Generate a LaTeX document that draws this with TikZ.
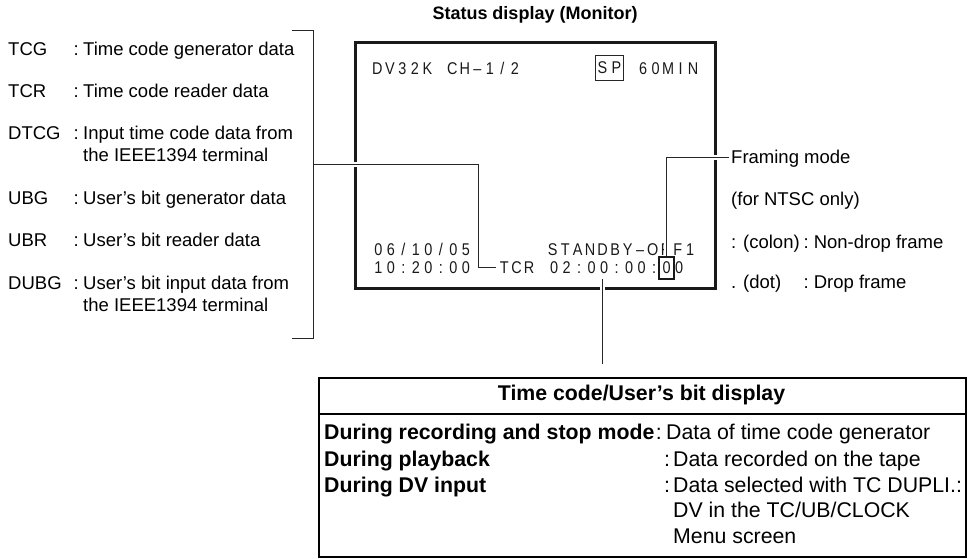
\documentclass[tikz,border=0pt]{standalone}
\usepackage{fontspec}
\setmainfont{Liberation Sans}
\newfontfamily\monfont[FakeStretch=0.85]{Liberation Sans}
\usetikzlibrary{calc}
\newlength\monopitch
\setlength\monopitch{12.5pt}
\makeatletter
\newcommand\monostr[1]{\@tfor\mc:=#1\do{\makebox[\monopitch]{\mc}}}
\makeatother
\begin{document}
\begin{tikzpicture}[x=1pt,y=-1pt,
  txt/.style={inner sep=0pt, font=\fontsize{18.5}{22}\selectfont, anchor=base west},
  ttl/.style={inner sep=0pt, font=\bfseries\fontsize{18}{22}\selectfont, anchor=base},
  mon/.style={inner sep=0pt, font=\monfont\fontsize{17}{20}\selectfont, anchor=base west, text=black!90},
  tb/.style={inner sep=0pt, font=\fontsize{21.3}{25}\selectfont, anchor=base west},
  tbb/.style={tb, font=\bfseries\fontsize{21.3}{25}\selectfont},
  conn/.style={draw=black!85, line width=1pt},
  halo/.style={preaction={draw=white, line width=5pt}},
  spbox/.style={draw=black!85, line width=0.9pt, inner sep=0pt, minimum width=27pt, minimum height=25pt, font=\monfont\fontsize{17}{20}\selectfont, text=black!90},
  framebox/.style={draw=black!90, line width=2pt, inner sep=0pt, minimum width=15pt, minimum height=22pt},
  ]
\useasboundingbox (0,0) rectangle (970,558);

% title
\node[ttl] (title) at (535,19.5) {Status display (Monitor)};

% left legend
\node[txt] (tcg)   at (8,55)    {TCG};
\node[txt] (tcgc)  at (73.5,55) {:};
\node[txt] (tcgd)  at (83,55)   {Time code generator data};
\node[txt] (tcr0)  at (8,97.6)  {TCR};
\node[txt] (tcrc)  at (73.5,97.6) {:};
\node[txt] (tcrd)  at (83,97.6) {Time code reader data};
\node[txt] (dtcg)  at (8,139.6) {DTCG};
\node[txt] (dtcgc) at (73.5,139.6) {:};
\node[txt] (dtcgd) at (83,139.6) {Input time code data from};
\node[txt] (dtcge) at (83,161.6) {the IEEE1394 terminal};
\node[txt] (ubg)   at (8,204.6) {UBG};
\node[txt] (ubgc)  at (73.5,204.6) {:};
\node[txt] (ubgd)  at (83,204.6) {User’s bit generator data};
\node[txt] (ubr)   at (8,246.6) {UBR};
\node[txt] (ubrc)  at (73.5,246.6) {:};
\node[txt] (ubrd)  at (83,246.6) {User’s bit reader data};
\node[txt] (dubg)  at (8,289.6) {DUBG};
\node[txt] (dubgc) at (73.5,289.6) {:};
\node[txt] (dubgd) at (83,289.6) {User’s bit input data from};
\node[txt] (dubge) at (83,311.6) {the IEEE1394 terminal};

% monitor
\node[draw=black!90, line width=2.7pt, inner sep=0pt, minimum width=360pt, minimum height=246pt, anchor=north west] (monitor) at (354,41) {};
\node[mon] (l1)   at (371,74.1)   {\monostr{DV32K~CH–1/2}};
\node[spbox] (sp) at (609.5,68)   {\setlength\monopitch{14pt}\monostr{SP}};
\node[mon] (min)  at (636.75,74.1) {\monostr{60MIN}};
\node[mon] (date) at (372,255)    {\monostr{06/10/05}};
\node[mon] (stb)  at (546.25,255) {\monostr{STANDBY–OFF1}};
\node[mon] (time) at (372,273.6)  {\monostr{10:20:00}};
\node[mon] (tcr)  at (497.75,273.6) {\monostr{TCR}};
\node[mon] (tc)   at (547.75,273.6) {\monostr{02:00:00:00}};

% right legend
\node[txt] (fmode) at (731,163.6) {Framing mode};
\node[txt] (ntsc)  at (731,205.6) {(for NTSC only)};
\node[txt] (colon) at (731,248)   {: (colon)};
\node[txt] (colc)  at (803.3,248) {:};
\node[txt] (cold)  at (813.6,248) {Non-drop frame};
\node[txt] (dot)   at (731,288.5) {. (dot)};
\node[txt] (dotc)  at (803.3,288.5) {:};
\node[txt] (dotd)  at (813.6,288.5) {Drop frame};

% table
\node[draw=black, line width=2.2pt, inner sep=0pt, minimum width=647pt, minimum height=179pt, anchor=north west] (table) at (318,377) {};
\coordinate (sepL) at ($(table.north west)+(0,36.7)$);
\coordinate (sepR) at ($(table.north east)+(0,36.7)$);
\draw[black, line width=2.2pt] (sepL) -- (sepR);
\node[tbb, anchor=base] (thead) at (641.5,400) {Time code/User’s bit display};
\node[tbb] (r1a) at (324,439.5) {During recording and stop mode};
\node[tb]  (r1c) at ($(r1a.base east)+(1,0)$) {:};
\node[tb]  (r1b) at (666,439.5) {Data of time code generator};
\node[tbb] (r2a) at (324,466) {During playback};
\node[tb]  (r2c) at (664,466) {:};
\node[tb]  (r2b) at (673,466) {Data recorded on the tape};
\node[tbb] (r3a) at (324,492) {During DV input};
\node[tb]  (r3c) at (664,492) {:};
\node[tb]  (r3b) at (673,492) {Data selected with TC DUPLI.:};
\node[tb]  (r4b) at (673,517.5) {DV in the TC/UB/CLOCK};
\node[tb]  (r5b) at (673,543) {Menu screen};

% connectors
\coordinate (brTop) at (292,30);
\coordinate (brBot) at (292,338);
\coordinate (brMid) at (313,164);
\draw[conn, halo] (brMid) -| ($(tcr.west)+(-19.5,0)$) -- ($(tcr.west)+(-1.5,0)$);
\draw[conn] (brTop) -- ++(21,0) |- (brBot);

\node[framebox] (fbox) at ($(tc.base west)+(118.75,-6.1)$) {};
\coordinate (fmodeL) at ($(fmode.base west)+(-2.5,-6.6)$);
\draw[conn, halo] (fbox.north) |- (fmodeL);
\node[framebox] (fbox2) at (fbox) {};

\coordinate (tcLineTop) at ($(tc.base west)+(54.5,5.4)$);
\coordinate (tcLineBot) at ($(tcLineTop |- table.north)+(0,-13)$);
\draw[conn, halo] (tcLineTop) -- (tcLineBot);
\end{tikzpicture}
\end{document}
